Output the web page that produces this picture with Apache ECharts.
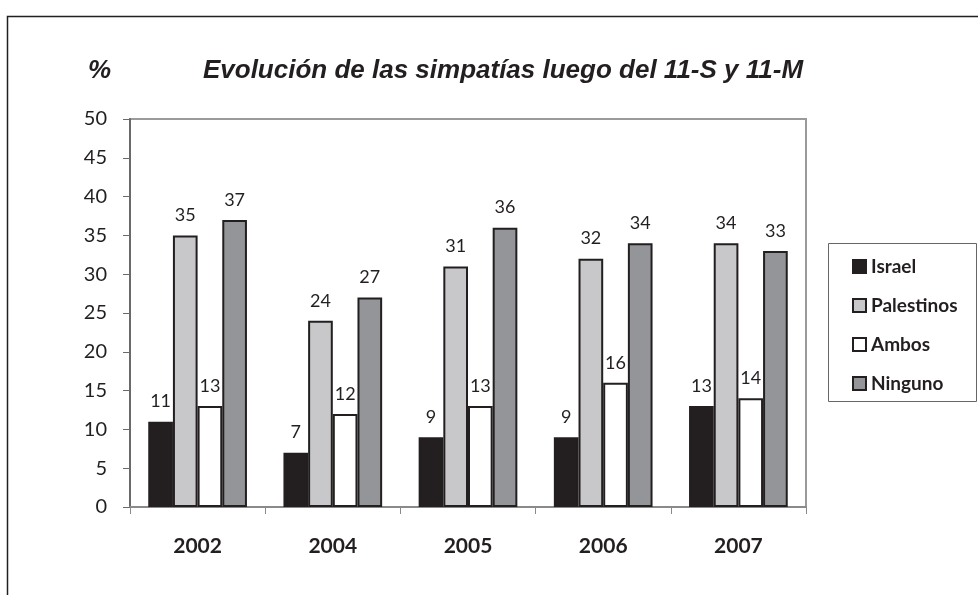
<!DOCTYPE html>
<html><head><meta charset="utf-8">
<script src="https://cdn.jsdelivr.net/npm/echarts@6/dist/echarts.min.js"></script>
<style>html,body{margin:0;padding:0;background:#fff}#c{width:978px;height:595px}</style>
</head><body><div id="c"></div>
<script>
const categories = ['2002','2004','2005','2006','2007'];
const israel = [11, 7, 9, 9, 13];
const palestinos = [35, 24, 31, 32, 34];
const ambos = [13, 12, 13, 16, 14];
const ninguno = [37, 27, 36, 34, 33];
const yTicks = {min: 0, max: 50, interval: 5};

const chart = echarts.init(document.getElementById('c'));
const F = 'Lato, "Open Sans", sans-serif';
const dark = '#231f20';
function mk(name, data, color) {
  return {
    name, type: 'bar', data, barGap: '0%', barCategoryGap: '27%',
    itemStyle: {color, borderColor: dark, borderWidth: 2},
    label: {show: true, position: 'top', distance: 11, fontFamily: F, fontSize: 18, color: dark}
  };
}
chart.setOption({
  animation: false,
  title: [{
    text: 'Evolución de las simpatías luego del 11-S y 11-M',
    left: 498, textAlign: 'center', top: 53,
    textStyle: {fontFamily: '"Liberation Sans", Arial, sans-serif', fontStyle: 'italic', fontWeight: 'bold', fontSize: 26, color: dark}
  }, {
    text: '%', left: 83, top: 53,
    textStyle: {fontFamily: '"Liberation Sans", Arial, sans-serif', fontStyle: 'italic', fontWeight: 'bold', fontSize: 26, color: dark}
  }],
  graphic: [
    {type: 'rect', shape: {x: 7.5, y: 16.5, width: 1000, height: 1000}, style: {fill: 'none', stroke: dark, lineWidth: 1.5}, z: -10},
    {type: 'rect', shape: {x: 828.5, y: 243.5, width: 148, height: 158}, style: {fill: '#fff', stroke: '#666', lineWidth: 1}, z: 0}
  ],
  legend: {
    orient: 'vertical', left: 847, top: 252, itemWidth: 13, itemHeight: 13, itemGap: 20,
    icon: 'rect', z: 5,
    textStyle: {fontFamily: F, fontWeight: 'bold', fontSize: 19, color: dark},
    data: ['Israel','Palestinos','Ambos','Ninguno']
  },
  grid: {left: 130, right: 172, top: 119, bottom: 88, show: true, borderColor: '#9a9a9a', borderWidth: 2},
  xAxis: {
    type: 'category', data: categories,
    axisLine: {lineStyle: {color: '#8a8a8a', width: 2}},
    axisTick: {show: true, length: 7, lineStyle: {color: '#8a8a8a'}},
    axisLabel: {margin: 29, fontFamily: F, fontWeight: 'bold', fontSize: 21, color: dark}
  },
  yAxis: {
    type: 'value', min: yTicks.min, max: yTicks.max, interval: yTicks.interval,
    axisLine: {show: true, lineStyle: {color: '#6a6a6a', width: 2}},
    axisTick: {show: true, length: 7, lineStyle: {color: '#6a6a6a'}},
    splitLine: {show: false},
    axisLabel: {margin: 23, fontFamily: F, fontSize: 20, color: dark}
  },
  series: [
    mk('Israel', israel, dark),
    mk('Palestinos', palestinos, '#c8c8ca'),
    mk('Ambos', ambos, '#ffffff'),
    mk('Ninguno', ninguno, '#939598')
  ]
});
</script></body></html>
